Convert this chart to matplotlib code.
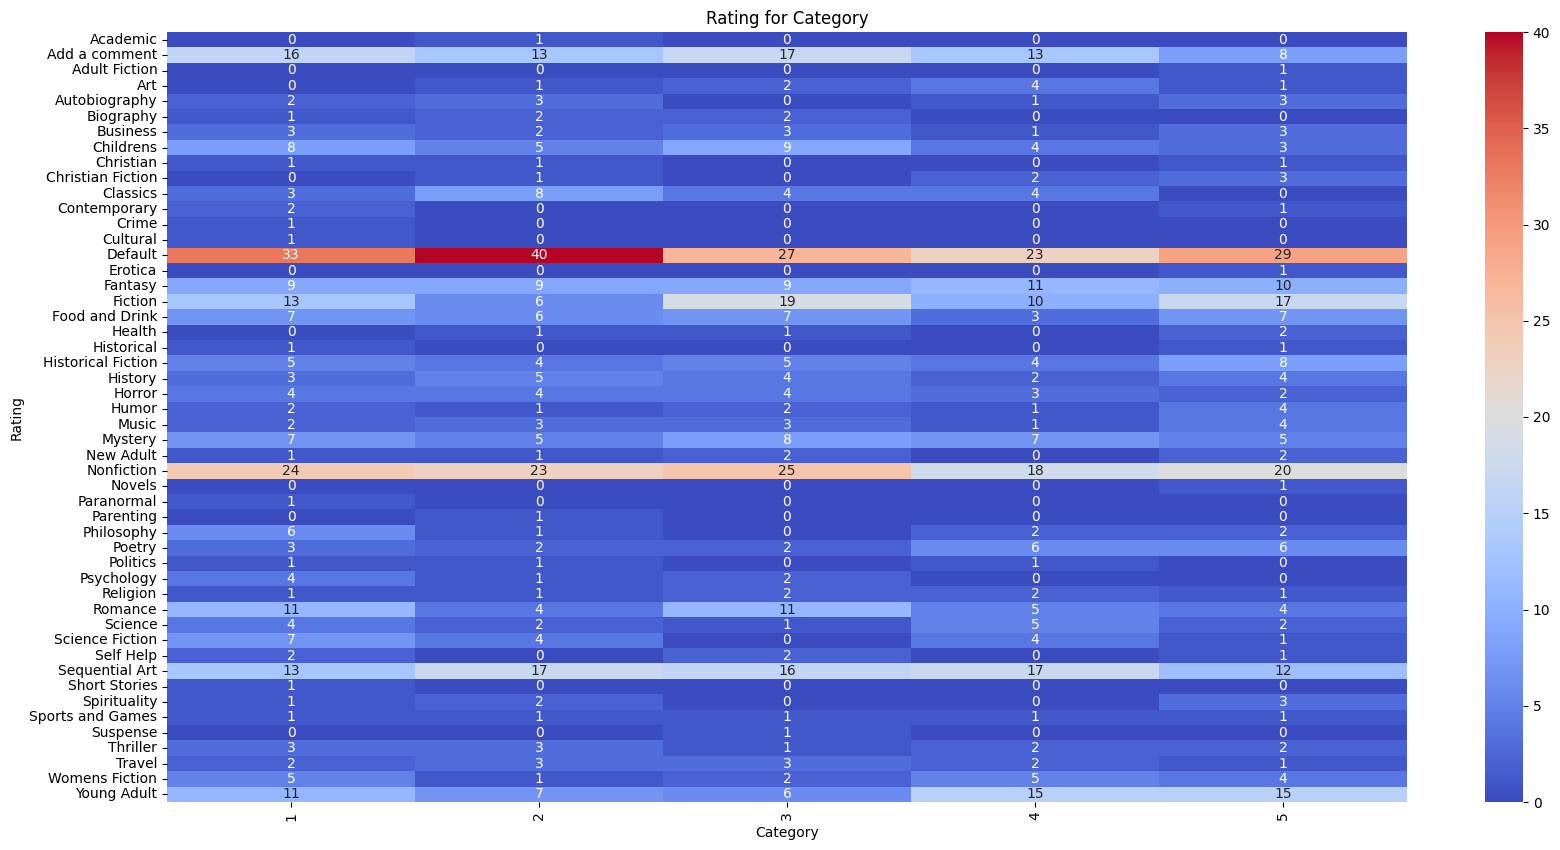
import matplotlib
matplotlib.use("Agg")
import matplotlib.pyplot as plt
import seaborn as sns
import pandas as pd

categories = ["Academic", "Add a comment", "Adult Fiction", "Art", "Autobiography", "Biography",
              "Business", "Childrens", "Christian", "Christian Fiction", "Classics", "Contemporary",
              "Crime", "Cultural", "Default", "Erotica", "Fantasy", "Fiction", "Food and Drink",
              "Health", "Historical", "Historical Fiction", "History", "Horror", "Humor", "Music",
              "Mystery", "New Adult", "Nonfiction", "Novels", "Paranormal", "Parenting",
              "Philosophy", "Poetry", "Politics", "Psychology", "Religion", "Romance", "Science",
              "Science Fiction", "Self Help", "Sequential Art", "Short Stories", "Spirituality",
              "Sports and Games", "Suspense", "Thriller", "Travel", "Womens Fiction", "Young Adult"]
ratings = [1, 2, 3, 4, 5]

rating1 = [0, 16, 0, 0, 2, 1, 3, 8, 1, 0, 3, 2, 1, 1, 33, 0, 9, 13, 7, 0, 1, 5, 3, 4, 2, 2, 7, 1, 24,
           0, 1, 0, 6, 3, 1, 4, 1, 11, 4, 7, 2, 13, 1, 1, 1, 0, 3, 2, 5, 11]
rating2 = [1, 13, 0, 1, 3, 2, 2, 5, 1, 1, 8, 0, 0, 0, 40, 0, 9, 6, 6, 1, 0, 4, 5, 4, 1, 3, 5, 1, 23,
           0, 0, 1, 1, 2, 1, 1, 1, 4, 2, 4, 0, 17, 0, 2, 1, 0, 3, 3, 1, 7]
rating3 = [0, 17, 0, 2, 0, 2, 3, 9, 0, 0, 4, 0, 0, 0, 27, 0, 9, 19, 7, 1, 0, 5, 4, 4, 2, 3, 8, 2, 25,
           0, 0, 0, 0, 2, 0, 2, 2, 11, 1, 0, 2, 16, 0, 0, 1, 1, 1, 3, 2, 6]
rating4 = [0, 13, 0, 4, 1, 0, 1, 4, 0, 2, 4, 0, 0, 0, 23, 0, 11, 10, 3, 0, 0, 4, 2, 3, 1, 1, 7, 0, 18,
           0, 0, 0, 2, 6, 1, 0, 2, 5, 5, 4, 0, 17, 0, 0, 1, 0, 2, 2, 5, 15]
rating5 = [0, 8, 1, 1, 3, 0, 3, 3, 1, 3, 0, 1, 0, 0, 29, 1, 10, 17, 7, 2, 1, 8, 4, 2, 4, 4, 5, 2, 20,
           1, 0, 0, 2, 6, 0, 0, 1, 4, 2, 1, 1, 12, 0, 3, 1, 0, 2, 1, 4, 15]

df = pd.DataFrame({1: rating1, 2: rating2, 3: rating3, 4: rating4, 5: rating5}, index=categories)

fig = plt.figure(figsize=(15.6, 8.5), dpi=100)
ax = fig.add_axes([167/1560, 48/850, 1240/1560, 770/850])
cax = fig.add_axes([1485/1560, 48/850, 38/1560, 770/850])

sns.heatmap(df, annot=True, fmt="d", cmap="coolwarm", ax=ax, cbar_ax=cax,
            annot_kws={"fontsize": 10})
ax.set_title("Rating for Category", fontsize=12)
ax.set_xlabel("Category", fontsize=10)
ax.set_ylabel("Rating", fontsize=10)
ax.set_xticklabels([str(r) for r in ratings], rotation=90)
ax.tick_params(axis="both", labelsize=10)
cax.tick_params(labelsize=10)

fig.savefig("out.png", dpi=100)
